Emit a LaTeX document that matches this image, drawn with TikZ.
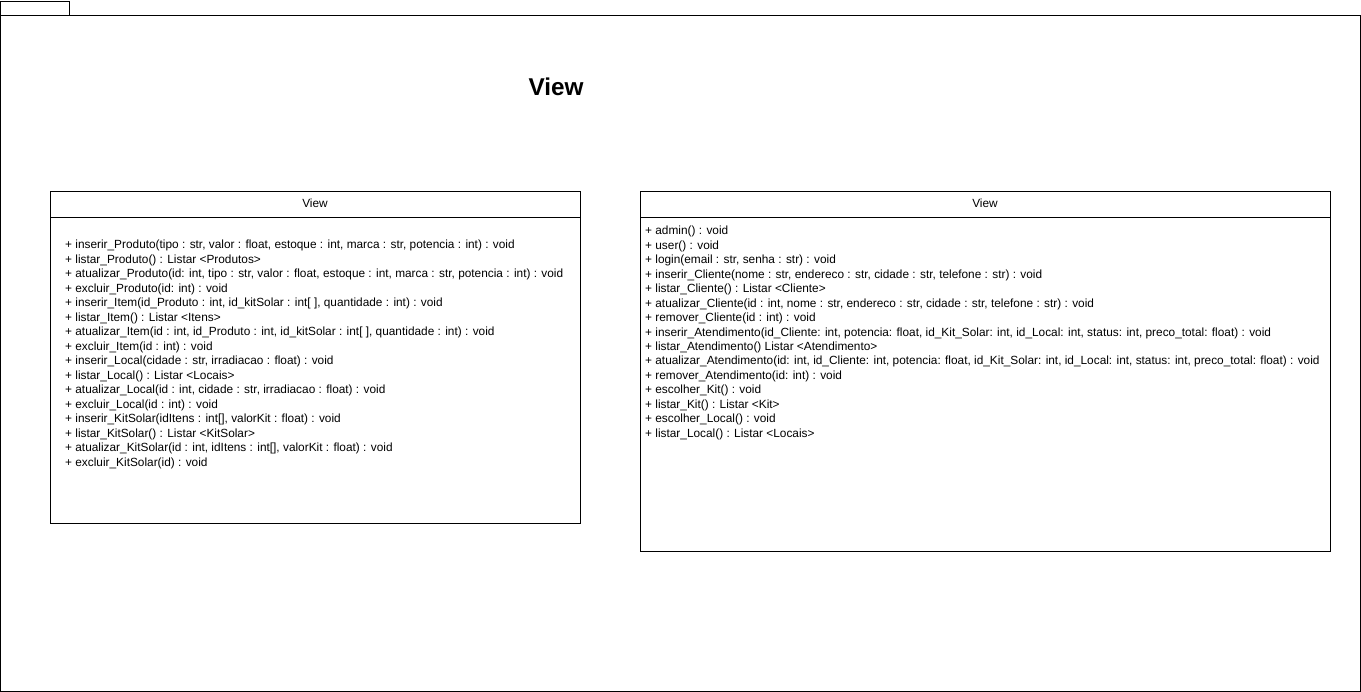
\documentclass[tikz,border=0pt]{standalone}
\usepackage{fontspec}
\setmainfont{Liberation Sans}
\begin{document}
\begin{tikzpicture}[x=1pt,y=-1pt,
  frame/.style={draw=black,line width=0.8pt},
  classbox/.style={draw=black,line width=0.8pt,fill=white},
  meth/.style={font=\fontsize{11.85}{14}\selectfont,inner sep=0pt,anchor=base west},
  head/.style={font=\fontsize{11.85}{14}\selectfont,inner sep=0pt,anchor=base},
  title/.style={font=\fontsize{24.3}{28}\selectfont\bfseries,inner sep=0pt,anchor=base}]
\useasboundingbox (0,0) rectangle (1361,692);
% package frame
\draw[frame] (0,1) rectangle (69,15);
\draw[frame] (0,15) rectangle (1360,691);
\node[title] (pkgtitle) at (556,95.5) {View};
% left class
\draw[classbox] (50,191) rectangle (580,523);
\draw[frame] (50,217) -- (580,217);
\node[head] (lhead) at (315,208) {View};
\foreach [count=\i] \t in {
 {+ inserir\_Produto(tipo : str, valor : float, estoque : int, marca : str, potencia : int) : void},
 {+ listar\_Produto() : Listar <Produtos>},
 {+ atualizar\_Produto(id: int, tipo : str, valor : float, estoque : int, marca : str, potencia : int) : void},
 {+ excluir\_Produto(id: int) : void},
 {+ inserir\_Item(id\_Produto : int, id\_kitSolar : int[ ], quantidade : int) : void},
 {+ listar\_Item() : Listar <Itens>},
 {+ atualizar\_Item(id : int, id\_Produto : int, id\_kitSolar : int[ ], quantidade : int) : void},
 {+ excluir\_Item(id : int) : void},
 {+ inserir\_Local(cidade : str, irradiacao : float) : void},
 {+ listar\_Local() : Listar <Locais>},
 {+ atualizar\_Local(id : int, cidade : str, irradiacao : float) : void},
 {+ excluir\_Local(id : int) : void},
 {+ inserir\_KitSolar(idItens : int[], valorKit : float) : void},
 {+ listar\_KitSolar() : Listar <KitSolar>},
 {+ atualizar\_KitSolar(id : int, idItens : int[], valorKit : float) : void},
 {+ excluir\_KitSolar(id) : void}}
 \node[meth] (lm\i) at (65,{249+(\i-1)*14.47}) {\t};
% right class
\draw[classbox] (640,191) rectangle (1330,551);
\draw[frame] (640,217) -- (1330,217);
\node[head] (rhead) at (985,208) {View};
\foreach [count=\i] \t in {
 {+ admin() : void},
 {+ user() : void},
 {+ login(email : str, senha : str) : void},
 {+ inserir\_Cliente(nome : str, endereco : str, cidade : str, telefone : str) : void},
 {+ listar\_Cliente() : Listar <Cliente>},
 {+ atualizar\_Cliente(id : int, nome : str, endereco : str, cidade : str, telefone : str) : void},
 {+ remover\_Cliente(id : int) : void},
 {+ inserir\_Atendimento(id\_Cliente: int, potencia: float, id\_Kit\_Solar: int, id\_Local: int, status: int, preco\_total: float) : void},
 {+ listar\_Atendimento() Listar <Atendimento>},
 {+ atualizar\_Atendimento(id: int, id\_Cliente: int, potencia: float, id\_Kit\_Solar: int, id\_Local: int, status: int, preco\_total: float) : void},
 {+ remover\_Atendimento(id: int) : void},
 {+ escolher\_Kit() : void},
 {+ listar\_Kit() : Listar <Kit>},
 {+ escolher\_Local() : void},
 {+ listar\_Local() : Listar <Locais>}}
 \node[meth] (rm\i) at (645,{235+(\i-1)*14.43}) {\t};
\end{tikzpicture}
\end{document}
